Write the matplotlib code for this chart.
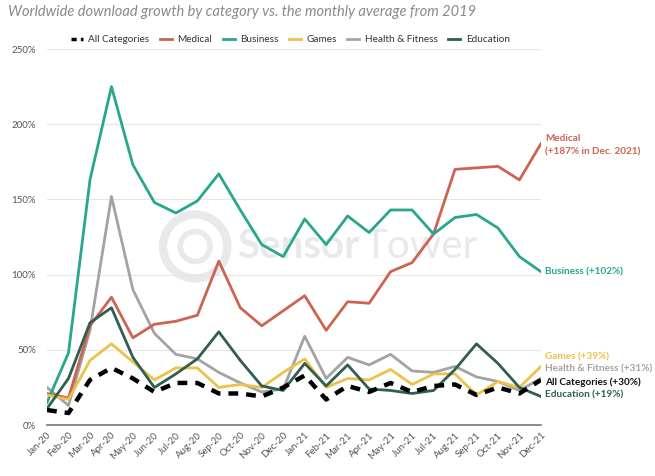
import matplotlib
matplotlib.use("Agg")
import matplotlib.pyplot as plt
from matplotlib.lines import Line2D
from matplotlib.patches import Ellipse

months = ["Jan-20", "Feb-20", "Mar-20", "Apr-20", "May-20", "Jun-20", "Jul-20", "Aug-20",
          "Sep-20", "Oct-20", "Nov-20", "Dec-20", "Jan-21", "Feb-21", "Mar-21", "Apr-21",
          "May-21", "Jun-21", "Jul-21", "Aug-21", "Sep-21", "Oct-21", "Nov-21", "Dec-21"]

all_categories = [10, 8, 30, 38, 31, 22, 28, 28, 21, 21, 19, 25, 33, 17, 26, 22, 28, 22, 26, 27, 20, 25, 21, 30]
medical = [21, 18, 66, 85, 58, 67, 69, 73, 109, 78, 66, 76, 86, 63, 82, 81, 102, 108, 127, 170, 171, 172, 163, 187]
business = [15, 48, 163, 225, 173, 148, 141, 149, 167, 143, 120, 112, 137, 120, 139, 128, 143, 143, 127, 138, 140, 131, 112, 102]
games = [20, 17, 43, 54, 42, 30, 38, 38, 25, 27, 25, 35, 44, 25, 31, 30, 37, 27, 34, 34, 20, 29, 25, 39]
health_fitness = [25, 13, 63, 152, 90, 61, 47, 44, 35, 28, 22, 24, 59, 31, 45, 40, 47, 36, 35, 39, 32, 29, 23, 31]
education = [11, 31, 68, 78, 45, 25, 34, 44, 62, 43, 26, 23, 41, 26, 40, 24, 23, 21, 23, 37, 54, 41, 25, 19]

y_ticks = [0, 50, 100, 150, 200, 250]
y_tick_labels = ["0%", "50%", "100%", "150%", "200%", "250%"]

C_MED = "#cd6351"
C_BUS = "#28a78e"
C_GAM = "#eec14a"
C_HF = "#a3a3a3"
C_EDU = "#2f5e52"

end_labels = [
    ("Medical\n(+187% in Dec. 2021)", 186, C_MED),
    ("Business (+102%)", 102, C_BUS),
    ("Games (+39%)", 45.5, C_GAM),
    ("Health & Fitness (+31%)", 37, C_HF),
    ("All Categories (+30%)", 28.5, "#111111"),
    ("Education (+19%)", 20, C_EDU),
]

plt.rcParams['font.family'] = ['Lato', 'DejaVu Sans']

fig = plt.figure(figsize=(6.55, 4.76), dpi=100)
ax = fig.add_axes([0.0718, 0.107, 0.754, 0.79])

x = list(range(len(months)))

# watermark
wm = "#e9e9e9"
ax.text(0.385, 0.475, "Sensor", transform=ax.transAxes, fontsize=29, fontweight='bold',
        color=wm, ha='left', va='center', zorder=0)
ax.text(0.64, 0.475, "Tower", transform=ax.transAxes, fontsize=29,
        color=wm, ha='left', va='center', zorder=0)
ax.add_patch(Ellipse((0.30, 0.475), 0.13, 0.17, transform=ax.transAxes, fill=False, ec=wm, lw=6, zorder=0))
ax.add_patch(Ellipse((0.30, 0.475), 0.06, 0.08, transform=ax.transAxes, fill=False, ec=wm, lw=4, zorder=0))

lw = 2.0
ax.plot(x, medical, color=C_MED, lw=lw, zorder=3, label="Medical")
ax.plot(x, business, color=C_BUS, lw=lw, zorder=3, label="Business")
ax.plot(x, games, color=C_GAM, lw=lw, zorder=3, label="Games")
ax.plot(x, health_fitness, color=C_HF, lw=lw, zorder=2, label="Health & Fitness")
ax.plot(x, education, color=C_EDU, lw=lw, zorder=3, label="Education")
ax.plot(x, all_categories, color="black", lw=3.2, ls=(0, (2.2, 1.8)), zorder=4, label="All Categories")

ax.set_xlim(0, 23)
ax.set_ylim(0, 250)
ax.set_yticks(y_ticks)
ax.set_yticklabels(y_tick_labels)
ax.set_xticks(x)
ax.set_xticklabels(months, rotation=45, ha='right', rotation_mode='anchor')
ax.tick_params(axis='both', length=0, labelsize=7.0, colors="#555555")
ax.tick_params(axis='x', pad=4)
ax.tick_params(axis='y', pad=8)
ax.grid(axis='y', color="#e6e6e6", lw=0.8, zorder=0)
for s in ["top", "right", "left"]:
    ax.spines[s].set_visible(False)
ax.spines["bottom"].set_color("#777777")
ax.spines["bottom"].set_linewidth(1.2)
ax.set_axisbelow(True)

for text, yv, col in end_labels:
    ax.text(23.2, yv, text, color=col, fontsize=7.2, fontweight='bold', va='center', ha='left',
            clip_on=False, linespacing=1.55)

handles = [
    Line2D([], [], color="black", lw=2.5, ls=(0, (1.5, 1.2))),
    Line2D([], [], color=C_MED, lw=2),
    Line2D([], [], color=C_BUS, lw=2),
    Line2D([], [], color=C_GAM, lw=2),
    Line2D([], [], color=C_HF, lw=2),
    Line2D([], [], color=C_EDU, lw=2),
]
labels = ["All Categories", "Medical", "Business", "Games", "Health & Fitness", "Education"]
fig.legend(handles, labels, loc='center', bbox_to_anchor=(0.443, 0.917), ncol=6, frameon=False,
           fontsize=7.2, handlelength=1.2, handletextpad=0.55, columnspacing=1.05,
           labelcolor="#333333")

fig.text(0.012, 0.975, "Worldwide download growth by category vs. the monthly average from 2019",
         fontsize=10.5, style='italic', color="#8a8a8a", ha='left', va='center')

fig.savefig("out.png", dpi=100)
